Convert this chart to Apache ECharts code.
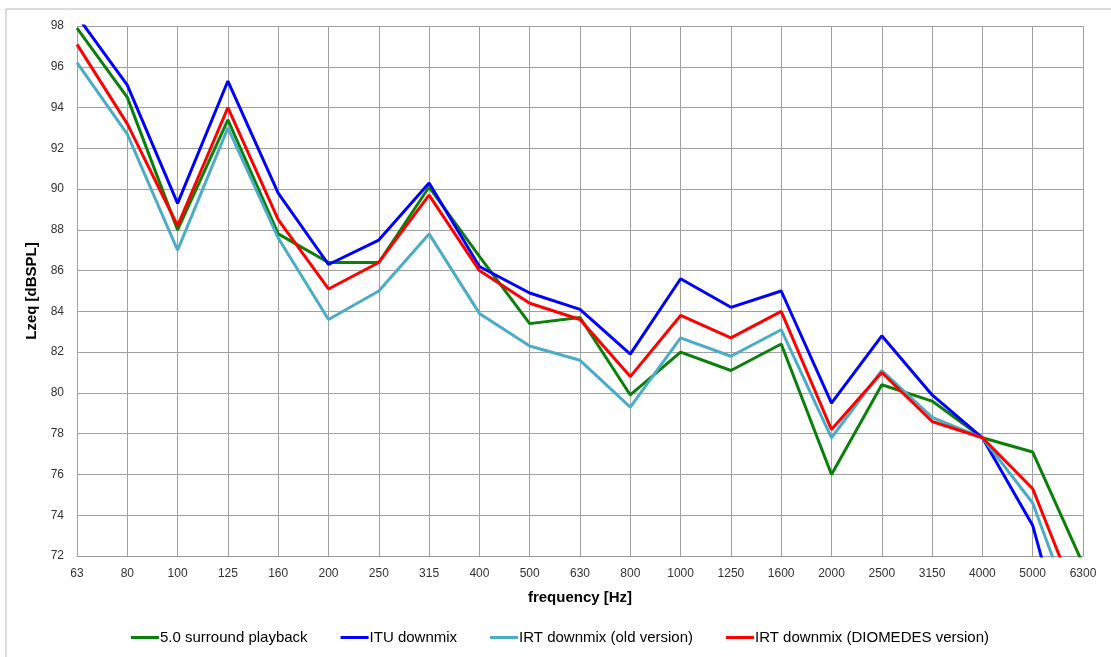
<!DOCTYPE html>
<html><head><meta charset="utf-8">
<script src="https://cdn.jsdelivr.net/npm/echarts@6/dist/echarts.min.js"></script>
<style>html,body{margin:0;padding:0;background:#fff}#c{width:1111px;height:657px}</style>
</head><body><div id="c"></div>
<script>
const categories = ['63','80','100','125','160','200','250','315','400','500','630','800','1000','1250','1600','2000','2500','3150','4000','5000','6300'];
const surround50 = [97.9,94.5,88.0,93.4,87.8,86.4,86.4,90.1,86.7,83.4,83.7,79.9,82.0,81.1,82.4,76.0,80.4,79.6,77.8,77.1,71.6];
const ituDownmix = [98.5,95.1,89.3,95.3,89.8,86.3,87.5,90.3,86.2,84.9,84.1,81.9,85.6,84.2,85.0,79.5,82.8,79.9,77.8,73.5,64.5];
const irtOld = [96.2,92.7,87.0,93.0,87.6,83.6,85.0,87.8,83.9,82.3,81.6,79.3,82.7,81.8,83.1,77.8,81.1,78.8,77.8,74.6,67.9];
const irtDiomedes = [97.1,93.2,88.2,94.0,88.5,85.1,86.4,89.7,86.0,84.4,83.6,80.8,83.8,82.7,84.0,78.2,81.0,78.6,77.8,75.3,69.1];
const seriesNames = ['5.0 surround playback','ITU downmix','IRT downmix (old version)','IRT downmix (DIOMEDES version)'];
const seriesData = [surround50, ituDownmix, irtOld, irtDiomedes];
const colors = ['#0a800a','#0000ff','#4bacc6','#ff0000'];

const chart = echarts.init(document.getElementById('c'), null, {renderer:'canvas'});
const font = 'Liberation Sans, Arial, sans-serif';
chart.setOption({
  animation:false,
  backgroundColor:'#fff',
  graphic:[{type:'rect', shape:{x:6,y:9,width:1200,height:700}, style:{fill:'none', stroke:'#b8b8b8', lineWidth:1}, z:-1}],
  grid:{left:77,right:28,top:26,bottom:101},
  legend:{
    bottom:7, left:126, itemGap:33, itemWidth:28, itemHeight:3, icon:'rect',
    textStyle:{fontFamily:font, fontSize:15, color:'#000', padding:[0,0,0,-4]},
    data:seriesNames
  },
  xAxis:{
    type:'category', boundaryGap:false, data:categories,
    name:'frequency [Hz]', nameLocation:'middle', nameGap:34,
    nameTextStyle:{fontFamily:font, fontSize:15, fontWeight:'bold', color:'#000'},
    axisLine:{lineStyle:{color:'#999', width:1}},
    axisTick:{show:false},
    axisLabel:{fontFamily:font, fontSize:12, color:'#333', margin:12, interval:0},
    splitLine:{show:true, lineStyle:{color:'#a0a0a0', width:1}}
  },
  yAxis:{
    type:'value', min:72, max:98, interval:2,
    name:'Lzeq [dBSPL]', nameLocation:'middle', nameGap:33, nameRotate:90,
    nameTextStyle:{fontFamily:font, fontSize:15, fontWeight:'bold', color:'#000'},
    axisLine:{show:false}, axisTick:{show:false},
    axisLabel:{fontFamily:font, fontSize:12, color:'#333', margin:13},
    splitLine:{show:true, lineStyle:{color:'#a0a0a0', width:1}}
  },
  series: seriesNames.map((n,i)=>({
    name:n, type:'line', data:seriesData[i], symbol:'none', clip:true,
    lineStyle:{color:colors[i], width:3}, itemStyle:{color:colors[i]}
  }))
});
</script></body></html>
